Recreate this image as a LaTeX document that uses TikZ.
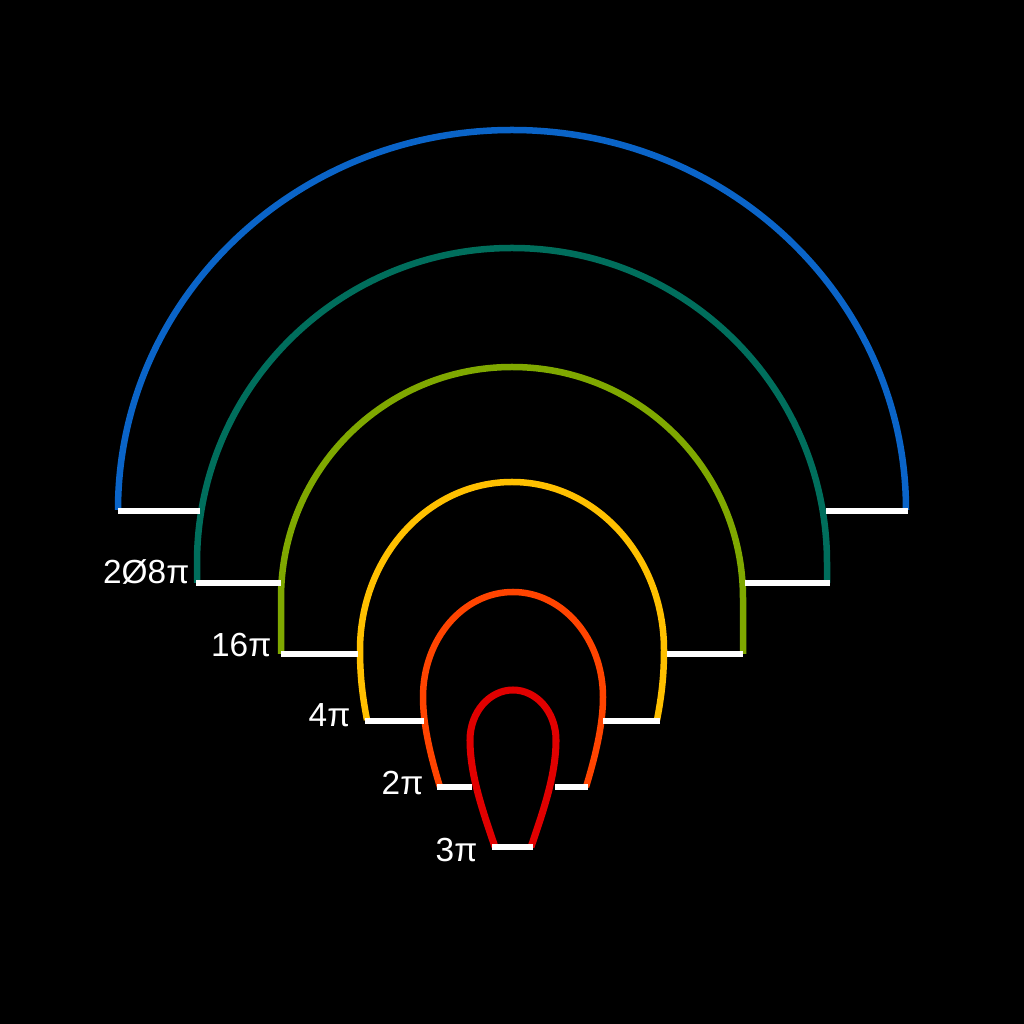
\documentclass[tikz,border=0pt]{standalone}
\usepackage{fontspec}
\setmainfont{Liberation Sans}
\usetikzlibrary{positioning}
\definecolor{rblue}{HTML}{0A64C8}
\definecolor{rteal}{HTML}{006E5C}
\definecolor{rgreen}{HTML}{7FA800}
\definecolor{ryellow}{HTML}{FFC000}
\definecolor{rorange}{HTML}{FF4400}
\definecolor{rred}{HTML}{E00000}
\tikzset{
  band/.style  = {line width=1.85pt},
  rung/.style  = {draw=white, line width=1.6pt},
  mult/.style  = {text=white, inner sep=0pt, anchor=east,
                  font=\fontsize{9.5}{11}\selectfont},
}
\begin{document}
\begin{tikzpicture}[x=0.1mm,y=0.1mm]
\fill[black] (0,0) rectangle (1024,1024);
\useasboundingbox (0,0) rectangle (1024,1024);
% outer bands
\draw[band,rblue] (118,514) arc[start angle=180, end angle=0, x radius=39.4mm, y radius=38mm];
\draw[band,rteal] (197,441) -- (197,461) arc[start angle=180, end angle=0, radius=31.5mm] -- (827,441);
\draw[band,rgreen] (281,370) -- (281,426) arc[start angle=180, end angle=0, radius=23.1mm] -- (743,370);
% inner bands, narrowing at the foot
\draw[band,ryellow] (367,304) .. controls (362,330) and (360,350) .. (360,374)
  arc[start angle=180, end angle=0, x radius=15.2mm, y radius=16.8mm]
  .. controls (664,350) and (662,330) .. (657,304);
\draw[band,rorange] (440,237) .. controls (430,270) and (423,300) .. (423,327)
  arc[start angle=180, end angle=0, x radius=9mm, y radius=10.5mm]
  .. controls (603,300) and (596,270) .. (586,237);
\draw[band,rred,line width=2pt] (495,177) .. controls (482,215) and (470,250) .. (470,284)
  arc[start angle=180, end angle=0, x radius=4.3mm, y radius=5mm]
  .. controls (556,250) and (544,215) .. (531,177);
% rungs
\draw[rung] (118,513) -- (200,513);  \draw[rung] (826,513) -- (908,513);
\draw[rung] (196,441) -- (281,441);  \draw[rung] (745,441) -- (830,441);
\draw[rung] (281,370) -- (358,370);  \draw[rung] (667,370) -- (743,370);
\draw[rung] (365,303) -- (424,303);  \draw[rung] (603,303) -- (660,303);
\draw[rung] (437,237) -- (472,237);  \draw[rung] (555,237) -- (588,237);
\draw[rung] (492,177) -- (533,177);
% labels
\node[mult] (l208) at (190,452) {2Ø8π};
\node[mult] (l16)  at (272,379) {16π};
\node[mult] (l4)   at (351,309) {4π};
\node[mult] (l2)   at (424,241) {2π};
\node[mult] (l3)   at (478,174) {3π};
\end{tikzpicture}
\end{document}
